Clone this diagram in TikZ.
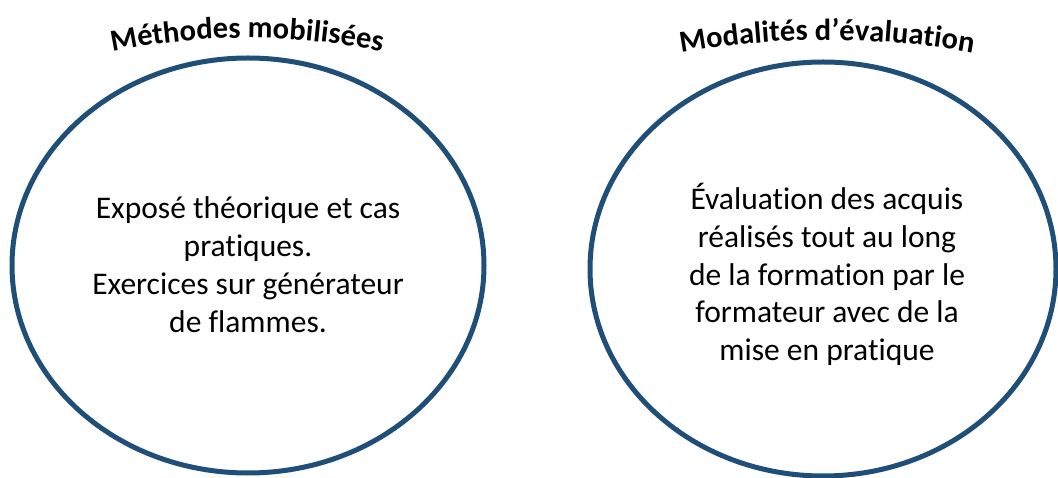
\documentclass[tikz,border=0pt]{standalone}
\usepackage{fontspec}
\setmainfont[RawFeature={-liga;-clig;-calt}]{Carlito}
\usetikzlibrary{decorations.text,shapes.geometric}
\definecolor{ringblue}{RGB}{31,78,121}
\tikzset{
  ring/.style={draw=ringblue, line width=5pt, ellipse, inner sep=0pt},
  bodytext/.style={align=center, font=\fontsize{31.5}{37.8}\selectfont, text=black, inner sep=0pt},
}
\begin{document}
\begin{tikzpicture}[x=1pt,y=1pt]
\useasboundingbox (0,0) rectangle (1058,477);
% ellipses
\node[ring, minimum width=472pt, minimum height=415pt] (leftring) at (248,211.5) {};
\node[ring, minimum width=466pt, minimum height=414pt] (rightring) at (823,208) {};
% curved titles
\path[decorate, decoration={text along path, text align=center,
  text={|\fontsize{30.5}{36}\selectfont\bfseries|Méthodes mobilisées}}]
  (247,-238) ++(115:677) arc[start angle=115, end angle=65, radius=677];
\path[decorate, decoration={text along path, text align=center,
  text={|\fontsize{30.5}{36}\selectfont\bfseries|Modalités d’évaluation}}]
  (827,-389) ++(110:826) arc[start angle=110, end angle=70, radius=826];
% body texts
\node[bodytext] (lefttext) at (248,477-264.5) {Exposé théorique et cas\\pratiques.\\Exercices sur générateur\\de flammes.};
\node[bodytext] (righttext) at (827,477-274.5) {Évaluation des acquis\\réalisés tout au long\\de la formation par le\\formateur avec de la\\mise en pratique};
\end{tikzpicture}
\end{document}
